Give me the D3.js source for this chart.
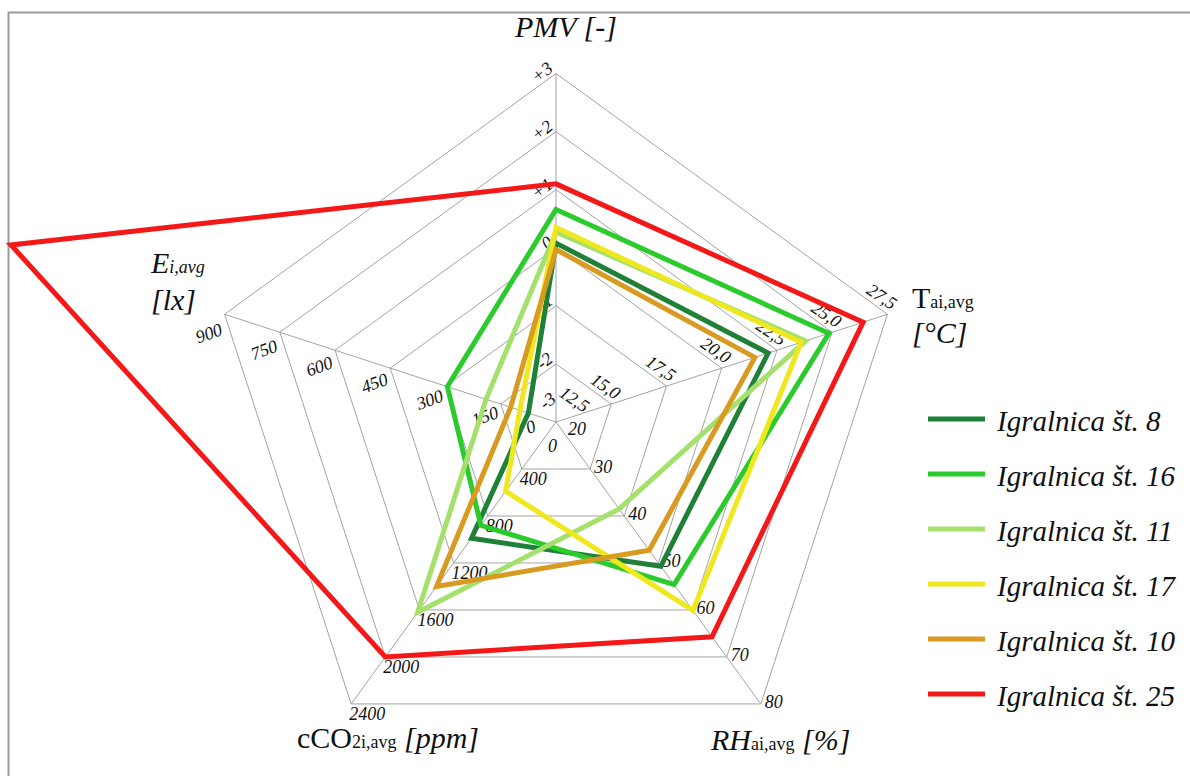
<!DOCTYPE html>
<html>
<head>
<meta charset="utf-8">
<script src="https://cdn.jsdelivr.net/npm/d3@7"></script>
<style>
  html, body { margin: 0; padding: 0; background: #fff; }
  svg { display: block; }
</style>
</head>
<body>
<svg id="chart" width="1190" height="776"></svg>
<script>
// Radar axes (clockwise from the top) and their ranges
const axisKeys = ["PMV", "T", "RH", "CO2", "E"];
const axisDomains = [[-3, 3], [12.5, 27.5], [20, 80], [0, 2400], [0, 900]];

// Tick labels along each axis, centre outwards
const pmvTicks = ["-3", "-2", "-1", "0", "+1", "+2", "+3"];
const tempTicks = ["12,5", "15,0", "17,5", "20,0", "22,5", "25,0", "27,5"];
const rhTicks = ["20", "30", "40", "50", "60", "70", "80"];
const co2Ticks = ["0", "400", "800", "1200", "1600", "2000", "2400"];
const luxTicks = ["0", "150", "300", "450", "600", "750", "900"];

// Playroom averages: [PMV, T, RH, cCO2, E]
const seriesNames = ["Igralnica št. 8", "Igralnica št. 16", "Igralnica št. 11",
                     "Igralnica št. 17", "Igralnica št. 10", "Igralnica št. 25"];
const igralnica8  = [0.08, 22.1, 50.7,  990,   75];
const igralnica16 = [0.66, 24.85, 54.6, 880,  295];
const igralnica11 = [0.27, 23.8, 38.5, 1620,  190];
const igralnica17 = [0.35, 23.6, 60.1,  590,   98];
const igralnica10 = [-0.03, 21.5, 47.3, 1400, 123];
const igralnica25 = [1.10, 26.4, 65.7, 2000, 1480];
const seriesColors = ["#1f8038", "#2ccb2c", "#a6e06c", "#f0e81e", "#d99a22", "#f51818"];

const seriesValues = [igralnica8, igralnica16, igralnica11, igralnica17, igralnica10, igralnica25];
const tickSets = [pmvTicks, tempTicks, rhTicks, co2Ticks, luxTicks];

const FONT = "'Liberation Serif', 'Times New Roman', Tinos, serif";

const svg = d3.select("#chart");
const cx = 556, cy = 422, R = 348.5;
const rings = 6;

// frame
svg.append("rect")
  .attr("x", 8.5).attr("y", 12.5).attr("width", 1200).attr("height", 800)
  .attr("fill", "none").attr("stroke", "#9a9a9a").attr("stroke-width", 2);

const angle = i => (-90 + 72 * i) * Math.PI / 180;
const scales = axisDomains.map(d => d3.scaleLinear().domain(d).range([0, R]));
const pt = (i, r) => [cx + r * Math.cos(angle(i)), cy + r * Math.sin(angle(i))];

const grid = svg.append("g").attr("stroke", "#a3a3a3").attr("stroke-width", 1).attr("fill", "none");
const ringScale = d3.scaleLinear().domain([0, rings]).range([0, R]);
for (let k = 1; k <= rings; k++) {
  const pts = axisKeys.map((_, i) => pt(i, ringScale(k)));
  grid.append("path").attr("d", d3.line()(pts) + "Z");
}
axisKeys.forEach((_, i) => {
  grid.append("path").attr("d", d3.line()([[cx, cy], pt(i, R)]));
});

// tick labels: per-axis anchor, rotation and offset
const tickStyle = [
  { anchor: "end",   rot: -38, off: k => [-2, -3],             c0: [3, -18] },
  { anchor: "end",   rot: 34,  off: k => [4, -4],              c0: [24, -5] },
  { anchor: "start", rot: 0,   off: k => [4, 4],               c0: [8, 9] },
  { anchor: "start", rot: 0,   off: k => [-2, 16],             c0: [-6, 14] },
  { anchor: "end",   rot: -20, off: k => [-1, 12 + 8 * k / 6], c0: [-18, -3] }
];
const tickG = svg.append("g");
tickSets.forEach((ticks, i) => {
  const st = tickStyle[i];
  ticks.forEach((lab, k) => {
    const [vx, vy] = pt(i, ringScale(k));
    const o = st.off(k);
    let x = vx + o[0], y = vy + o[1];
    if (k === 0) { x += st.c0[0]; y += st.c0[1]; }
    tickG.append("text")
      .attr("font-family", FONT)
      .attr("font-size", 18)
      .attr("font-style", "italic")
      .attr("fill", "#111")
      .attr("text-anchor", st.anchor)
      .attr("transform", `translate(${x},${y}) rotate(${st.rot})`)
      .text(lab);
  });
});

// series polygons
const seriesG = svg.append("g");
seriesValues.forEach((vals, s) => {
  const pts = vals.map((v, i) => pt(i, scales[i](v)));
  seriesG.append("path")
    .attr("d", d3.line()(pts) + "Z")
    .attr("fill", "none")
    .attr("stroke", seriesColors[s])
    .attr("stroke-width", 5)
    .attr("stroke-linejoin", "miter")
    .attr("stroke-miterlimit", 10);
});

// axis titles built from runs of large / small, italic / upright text
const titles = svg.append("g");
function title(x, y, parts) {
  const t = titles.append("text").attr("x", x).attr("y", y)
    .attr("font-family", FONT).attr("fill", "#111")
    .attr("xml:space", "preserve").style("white-space", "pre");
  parts.forEach(p => {
    t.append("tspan")
      .attr("font-family", FONT)
      .attr("font-style", p.it ? "italic" : "normal")
      .attr("font-size", p.small ? 18 : 30)
      .text(p.t);
  });
}
title(515, 37, [{ t: "PMV [-]", it: true }]);
title(912, 308, [{ t: "T" }, { t: "ai,avg", small: true }]);
title(912, 343, [{ t: "[°C]", it: true }]);
title(711, 750, [{ t: "RH", it: true }, { t: "ai,avg", small: true }, { t: " [%]", it: true }]);
title(297, 748, [{ t: "cCO" }, { t: "2i,avg", small: true }, { t: " [ppm]", it: true }]);
title(151, 273, [{ t: "E", it: true }, { t: "i,avg", small: true, it: true }]);
title(151, 310, [{ t: "[lx]", it: true }]);

// legend
const legend = svg.append("g");
const legY = d3.scalePoint().domain(seriesNames).range([419, 694]);
seriesNames.forEach((name, s) => {
  const y = legY(name);
  legend.append("line")
    .attr("x1", 928).attr("x2", 985).attr("y1", y).attr("y2", y)
    .attr("stroke", seriesColors[s]).attr("stroke-width", 5);
  legend.append("text")
    .attr("x", 997).attr("y", y + 12)
    .attr("font-family", FONT)
    .attr("font-size", 29).attr("font-style", "italic").attr("fill", "#111")
    .text(name);
});
</script>
</body>
</html>
